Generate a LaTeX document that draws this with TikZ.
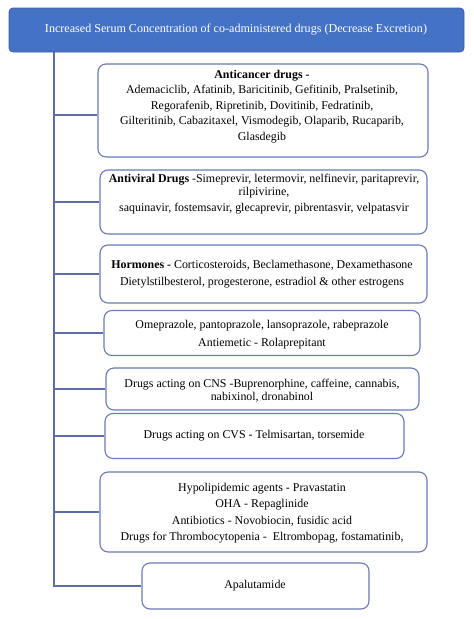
\documentclass[tikz,border=0pt]{standalone}
\usepackage{fontspec}
\setmainfont{Liberation Serif}
\definecolor{hdrblue}{RGB}{68,114,196}
\definecolor{hdredge}{RGB}{60,95,170}
\definecolor{boxedge}{RGB}{105,122,182}
\definecolor{linecol}{RGB}{92,108,168}
\tikzset{
  hdrbox/.style={draw=hdredge, fill=hdrblue, rounded corners=4pt, line width=0.8pt, inner sep=0pt},
  itembox/.style={draw=boxedge, fill=white, rounded corners=8pt, line width=1.1pt, inner sep=0pt},
  txt/.style={align=center, inner sep=0pt, text=black, font=\fontsize{11.9}{15.6}\selectfont},
  conn/.style={draw=linecol, line width=1.1pt}
}
\begin{document}
\begin{tikzpicture}[x=1pt,y=-1pt]
\useasboundingbox (0,0) rectangle (474,619);
% header
\node[hdrbox, minimum width=455pt, minimum height=44pt] (hdr) at (236.5,30) {};
\node[txt, text=white, font=\fontsize{12.1}{14}\selectfont] (hdrtxt) at (236,29.5) {Increased Serum Concentration of co-administered drugs (Decrease Excretion)};
% boxes
\node[itembox, minimum width=330pt, minimum height=93pt] (b1) at (263,110.5) {};
\node[itembox, minimum width=327pt, minimum height=64pt] (b2) at (263.5,202) {};
\node[itembox, minimum width=327pt, minimum height=58pt] (b3) at (263.5,274) {};
\node[itembox, minimum width=316pt, minimum height=45pt] (b4) at (262,333) {};
\node[itembox, minimum width=313pt, minimum height=42pt] (b5) at (262.5,389) {};
\node[itembox, minimum width=299pt, minimum height=45pt] (b6) at (254.5,436) {};
\node[itembox, minimum width=327pt, minimum height=80pt] (b7) at (263.5,512) {};
\node[itembox, minimum width=227pt, minimum height=46pt] (b8) at (255.5,586) {};
% texts
\node[txt] (t1) at (262,106.5) {\textbf{Anticancer drugs -}\\
Ademaciclib, Afatinib, Baricitinib, Gefitinib, Pralsetinib,\\
Regorafenib, Ripretinib, Dovitinib, Fedratinib,\\
Gilteritinib, Cabazitaxel, Vismodegib, Olaparib, Rucaparib,\\
Glasdegib};
\node[txt, font=\fontsize{11.9}{13}\selectfont] (t2) at (264,194) {\textbf{Antiviral Drugs} -Simeprevir, letermovir, nelfinevir, paritaprevir,\\
rilpivirine,\\[3pt]
saquinavir, fostemsavir, glecaprevir, pibrentasvir, velpatasvir};
\node[txt, font=\fontsize{11.9}{17}\selectfont] (t3) at (262,274) {\textbf{Hormones -} Corticosteroids, Beclamethasone, Dexamethasone\\
Dietylstilbesterol, progesterone, estradiol \& other estrogens};
\node[txt, font=\fontsize{11.9}{18}\selectfont] (t4) at (262,334.5) {Omeprazole, pantoprazole, lansoprazole, rabeprazole\\
Antiemetic - Rolaprepitant};
\node[txt, font=\fontsize{11.9}{13}\selectfont] (t5) at (262,390.5) {Drugs acting on CNS -Buprenorphine, caffeine, cannabis,\\
nabixinol, dronabinol};
\node[txt] (t6) at (254,436) {Drugs acting on CVS - Telmisartan, torsemide};
\node[txt, font=\fontsize{11.9}{16.3}\selectfont] (t7) at (262,513) {Hypolipidemic agents - Pravastatin\\
OHA - Repaglinide\\
Antibiotics - Novobiocin, fusidic acid\\
Drugs for Thrombocytopenia -\ \ Eltrombopag, fostamatinib,};
\node[txt] (t8) at (255,586) {Apalutamide};
% connectors
\coordinate (spinetop) at (54,52);
\draw[conn] (spinetop) |- (b8.west);
\draw[conn] (spinetop |- b1.west) ++(0,4.5) -- ([yshift=-4.5pt]b1.west);
\foreach \b in {b2,b3,b4,b5,b6,b7}{
  \draw[conn] (spinetop |- \b.west) -- (\b.west);
}
\end{tikzpicture}
\end{document}
